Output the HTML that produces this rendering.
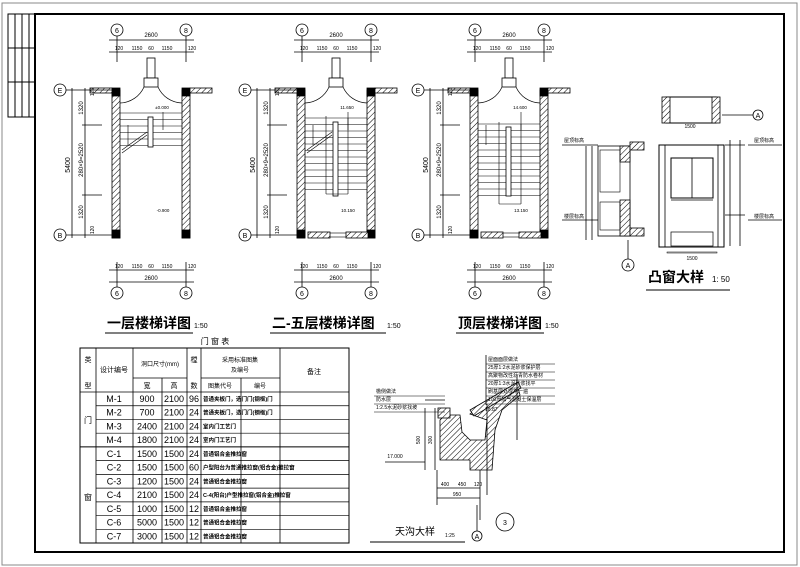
<!DOCTYPE html>
<html><head><meta charset="utf-8">
<style>
html,body{margin:0;padding:0;background:#fff;}
svg{display:block;}
text{font-family:"Liberation Sans","Noto Sans CJK SC",sans-serif;fill:#000;}
</style></head>
<body>
<svg id="s" width="800" height="567" viewBox="0 0 800 567" xmlns="http://www.w3.org/2000/svg">
<defs>
<pattern id="h" patternUnits="userSpaceOnUse" width="4" height="4" patternTransform="rotate(45)">
<rect width="4" height="4" fill="#fff"/><line x1="0" y1="0" x2="0" y2="4" stroke="#000" stroke-width="1"/>
</pattern>
</defs>
<rect x="2" y="3" width="795" height="562" fill="none" stroke="#888" stroke-width="1"/>
<rect x="35" y="14" width="749" height="538" fill="none" stroke="#000" stroke-width="2"/>
<g stroke="#000" stroke-width="1" fill="none">
<rect x="8" y="14" width="27" height="103"/>
<line x1="15" y1="14" x2="15" y2="117"/><line x1="22" y1="14" x2="22" y2="117"/><line x1="29" y1="14" x2="29" y2="117"/>
<line x1="8" y1="48" x2="35" y2="48"/><line x1="8" y1="82" x2="35" y2="82"/>
</g>
<g id="g"></g>
</svg>
<script>
var o='';
function L(a,b,c,d,w){o+='<line x1="'+a+'" y1="'+b+'" x2="'+c+'" y2="'+d+'" stroke="#000" stroke-width="'+(w||0.8)+'"/>';}
function R(x,y,w,h,f,sw){o+='<rect x="'+x+'" y="'+y+'" width="'+w+'" height="'+h+'" fill="'+(f||'none')+'" stroke="#000" stroke-width="'+(sw||0.8)+'"/>';}
function T(x,y,t,s,a,extra){o+='<text x="'+x+'" y="'+y+'" font-size="'+s+'" text-anchor="'+(a||'middle')+'" '+(extra||'')+'>'+t+'</text>';}
function C(x,y,r,t){o+='<circle cx="'+x+'" cy="'+y+'" r="'+r+'" fill="#fff" stroke="#000" stroke-width="0.8"/>';T(x,y+3,t,7);}
function plan(ox,type,title,tx){
 var rx=ox+69;
 C(ox,30,6,'6');C(rx,30,6,'8');C(ox,293,6,'6');C(rx,293,6,'8');
 L(ox,36,ox,62);L(rx,36,rx,62);L(ox,262,ox,287);L(rx,262,rx,287);
 L(ox-8,40,rx+8,40);T(ox+34,37,'2600',6);
 L(ox-8,52,rx+8,52);T(ox+2,50,'120',5);T(ox+20,50,'1150',5);T(ox+34,50,'60',5);T(ox+50,50,'1150',5);T(rx+6,50,'120',5);
 L(ox-8,270,rx+8,270);T(ox+2,268,'120',5);T(ox+20,268,'1150',5);T(ox+34,268,'60',5);T(ox+50,268,'1150',5);T(rx+6,268,'120',5);
 L(ox-8,282,rx+8,282);T(ox+34,280,'2600',6);
 // walls
 R(ox-5,90,8,148,'url(#h)');R(rx-4,90,8,148,'url(#h)');
 R(ox-5,88,8,8,'#000');R(rx-4,88,8,8,'#000');R(ox-5,230,8,8,'#000');R(rx-4,230,8,8,'#000');
 R(ox-27,88,22,5,'url(#h)');R(rx+4,88,22,5,'url(#h)');
 // entry
 R(ox+30,58,8,20,'#fff');R(ox+27,78,14,9,'#fff');
 o+='<path d="M'+(ox+3)+' 103 A27 27 0 0 0 '+(ox+27)+' 87 M'+(rx-4)+' 103 A27 27 0 0 1 '+(ox+41)+' 87" fill="none" stroke="#000" stroke-width="0.7"/>';
 // left dims
 C(ox-57,90,6,'E');C(ox-57,235,6,'B');
 L(ox-51,90,ox-5,90);L(ox-51,235,ox-5,235);
 L(ox-45,88,ox-45,238);L(ox-32,88,ox-32,238);
 L(ox-35,125,ox-15,125);L(ox-35,195,ox-15,195);
 T(ox-47,165,'5400',7,'middle','transform="rotate(-90 '+(ox-47)+' 165)"');
 T(ox-34,108,'1320',6,'middle','transform="rotate(-90 '+(ox-34)+' 108)"');
 T(ox-34,160,'280×9=2520',6,'middle','transform="rotate(-90 '+(ox-34)+' 160)"');
 T(ox-34,212,'1320',6,'middle','transform="rotate(-90 '+(ox-34)+' 212)"');
 T(ox-23,92,'120',5,'middle','transform="rotate(-90 '+(ox-23)+' 92)"');
 T(ox-23,230,'120',5,'middle','transform="rotate(-90 '+(ox-23)+' 230)"');
 var y0,y1,hy0,hy1;
 if(type==1){y0=113;y1=150;hy0=117;hy1=147;}
 else if(type==2){y0=118;y1=190;hy0=122;hy1=196;}
 else {y0=124;y1=200;hy0=127;hy1=196;}
 for(var y=y0;y<=y1;y+=6.5){L(ox+3,y,rx-4,y,0.6);}
 R(ox+31,hy0,5,hy1-hy0,'#fff');
 if(type>1){L(ox+24,y0-2,ox+24,y1+4,0.6);L(ox+24,y1+4,ox+46,y1+4,0.6);L(ox+46,y0,ox+46,y1+4,0.6);
   R(ox+6,232,22,6,'url(#h)');R(ox+44,232,22,6,'url(#h)');L(ox+28,233,ox+44,233,0.6);L(ox+28,237,ox+44,237,0.6);}
 if(type<3){L(ox+5,150,ox+30,132,0.6);L(ox+5,153,ox+30,135,0.6);}
 L(ox+11,125,ox+11,145,0.6);L(ox+46,112,ox+46,130,0.6);
 T(ox+45,109,type==1?'±0.000':(type==2?'11.650':'14.600'),4.5);
 T(ox+46,212,type==1?'-0.900':(type==2?'10.150':'13.150'),4.5);
 T(tx,328,title,14,'start','font-weight="bold"');
 L(tx-2,333,tx+ (title.length*14)+2,333,1);
 T(tx+title.length*14+3,328,'1:50',7,'start');
}
plan(117,1,'一层楼梯详图',107);
plan(302,2,'二-五层楼梯详图',272);
plan(475,3,'顶层楼梯详图',458);

// table
T(215,344,'门 窗 表',8);
var X=[80,96,133,162,187,201,241,280,349];
R(80,348,269,195,'none',1);
L(96,348,96,543);L(133,348,133,543);L(187,348,187,543);L(201,348,201,543);L(280,348,280,543);
L(162,378,162,543);L(241,378,241,543);
L(133,378,187,378);L(201,378,280,378);
L(80,392,349,392);
var rows=[['M-1','900','2100','96','普通夹板门，选门门(钢框)门'],['M-2','700','2100','24','普通夹板门，选门门(钢框)门'],['M-3','2400','2100','24','室内门工艺门'],['M-4','1800','2100','24','室内门工艺门'],
['C-1','1500','1500','24','普通铝合金推拉窗'],['C-2','1500','1500','60','户型阳台为普通推拉窗(铝合金)推拉窗'],['C-3','1200','1500','24','普通铝合金推拉窗'],['C-4','2100','1500','24','C-4(阳台)户型推拉窗(铝合金)推拉窗'],['C-5','1000','1500','12','普通铝合金推拉窗'],['C-6','5000','1500','12','普通铝合金推拉窗'],['C-7','3000','1500','12','普通铝合金推拉窗']];
for(var i=0;i<11;i++){var y=392+i*13.73;if(i>0)L(i==4?80:96,y,349,y,i==4?1:0.7);
 var r=rows[i];T(114,y+10,r[0],9);T(147,y+10,r[1],9);T(174,y+10,r[2],9);T(194,y+10,r[3],9);T(203,y+9,r[4],5.5,'start','font-weight="bold"');}
T(88,362,'类',7);T(88,388,'型',7);T(114,372,'设计编号',7);T(160,366,'洞口尺寸(mm)',6);T(147,388,'宽',7);T(174,388,'高',7);T(194,362,'樘',7);T(194,388,'数',7);
T(240,362,'采用标准图集',6);T(240,372,'及编号',6);T(220,388,'图集代号',6);T(260,388,'编号',6);T(314,374,'备注',7);
T(88,423,'门',8);T(88,500,'窗',8);

// bay window
R(666,97,50,26,'none',1);R(662,97,8,26,'url(#h)');R(712,97,8,26,'url(#h)');
T(690,128,'1500',5);C(758,115,5,'A');L(722,115,753,115);
R(659,145,65,102,'none',1);L(665,145,665,247);L(718,145,718,247);
R(671,158,42,40,'none',1);L(692,158,692,198);L(671,200,713,200);R(671,232,42,14,'none',0.7);
R(667,252,50,1,'none',0.5);T(692,260,'1500',5);
L(730,140,730,246);L(740,140,740,246);L(725,145,745,145);L(725,215,745,215);
T(764,142,'屋顶标高',5);L(748,145,782,145);T(764,218,'楼层标高',5);L(748,220,782,220);
// section
R(598,146,32,90,'none',0.8);R(620,146,10,16,'url(#h)');R(620,200,10,36,'url(#h)');R(630,142,14,8,'url(#h)');R(630,228,14,8,'url(#h)');
R(600,150,20,42,'none',0.6);R(600,202,20,28,'none',0.6);
L(592,146,592,240);L(586,146,586,240);
T(574,142,'屋顶标高',5);L(562,145,598,145);T(574,218,'楼层标高',5);L(562,220,598,220);
C(628,265,6,'A');L(628,240,628,259);
T(648,282,'凸窗大样',14,'start','font-weight="bold"');T(712,282,'1: 50',8,'start');
L(646,290,730,290,1);

// gutter detail
o+='<path d="M440 445 L440 420 L445 415 L460 415 L462 432 L470 440 L485 440 L487 420 L470 414 L478 408 L500 400 L518 388 L520 395 L502 410 L495 430 L492 470 L470 470 L470 460 L440 460 Z" fill="url(#h)" stroke="#000" stroke-width="0.8"/>';
R(438,408,12,10,'url(#h)');
o+='<path d="M470 410 L518 382 L521 388 L474 416 Z" fill="url(#h)" stroke="#000" stroke-width="0.8"/>';
L(487,404,487,495);L(517,375,517,440);
L(425,400,445,400);L(425,408,425,470);L(435,408,435,470);T(420,440,'500',5,'middle','transform="rotate(-90 420 440)"');T(432,440,'300',5,'middle','transform="rotate(-90 432 440)"');
L(385,462,425,462);T(395,458,'17.000',5);
L(437,488,480,488);T(445,486,'400',5);T(462,486,'450',5);T(478,486,'120',5);L(437,498,480,498);T(457,496,'950',5);
L(437,470,437,505);L(480,470,480,520);
T(485,411,'18.87',5,'start');
T(376,393,'檐侧做法',5,'start');L(374,396,445,396,0.5);T(376,401,'防水层',5,'start');L(374,404,445,404,0.5);T(376,409,'1:2.5水泥砂浆找坡',5,'start');L(374,412,445,412,0.5);
var nt=['屋面面层做法','25厚1:2水泥砂浆保护层','高聚物改性沥青防水卷材','20厚1:3水泥砂浆找平','刷基层处理剂一遍','100厚加气混凝土保温层'];
for(var k=0;k<6;k++){T(488,361+k*8,nt[k],5,'start');L(486,364+k*8,555,364+k*8,0.5);}
L(486,355,486,405);
C(505,522,9,'3');C(477,536,5,'A');L(477,505,477,531);
T(395,535,'天沟大样',10,'start');T(445,537,'1:25',5,'start');L(370,542,465,542,1);
document.getElementById('g').innerHTML=o;
</script>
</body></html>
